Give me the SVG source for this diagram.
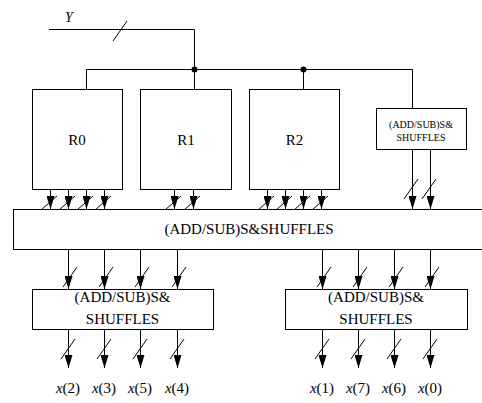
<svg xmlns="http://www.w3.org/2000/svg" xmlns:xlink="http://www.w3.org/1999/xlink" width="482" height="403" viewBox="0 0 482 403">
<style>
.box{fill:#fff;stroke:#000;stroke-width:1}
.ln{fill:none;stroke:#000;stroke-width:1}
.arr{fill:none;stroke:#000;stroke-width:1;marker-end:url(#ah)}
</style>
<defs>
<marker id="ah" markerUnits="userSpaceOnUse" viewBox="0 0 13 8" refX="13" refY="4" markerWidth="13" markerHeight="8" orient="auto">
<path d="M0,0 L13,4 L0,8 z" fill="#000"/>
</marker>
<path id="sl" d="M-8,7 L8,-7" class="ln"/>
<path id="slt" d="M-7,10 L7,-10" class="ln"/>
</defs>

<g id="Y-input">
<text x="65" y="22" font-family="Liberation Serif" font-style="italic" font-size="14">Y</text>
</g>

<g id="R0"><rect class="box" x="32.5" y="89.5" width="90" height="100"/><text x="77" y="145" font-family="Liberation Serif" font-size="15" text-anchor="middle">R0</text></g>
<g id="R1"><rect class="box" x="140.5" y="89.5" width="91" height="100"/><text x="186" y="145" font-family="Liberation Serif" font-size="15" text-anchor="middle">R1</text></g>
<g id="R2"><rect class="box" x="249.5" y="89.5" width="90" height="100"/><text x="294.5" y="145" font-family="Liberation Serif" font-size="15" text-anchor="middle">R2</text></g>
<g id="small-box"><rect class="box" x="376.5" y="108.5" width="90" height="41"/><text x="421" y="128" font-family="Liberation Serif" font-size="10" text-anchor="middle">(ADD/SUB)S&amp;</text><text x="421" y="140.5" font-family="Liberation Serif" font-size="10" text-anchor="middle">SHUFFLES</text></g>
<g id="big-box"><rect class="box" x="13.5" y="209.5" width="480" height="40"/><text x="249" y="234" font-family="Liberation Serif" font-size="15" text-anchor="middle">(ADD/SUB)S&amp;SHUFFLES</text></g>
<g id="left-box"><rect class="box" x="32.5" y="289.5" width="181" height="40"/><text x="122.5" y="302" font-family="Liberation Serif" font-size="15" text-anchor="middle">(ADD/SUB)S&amp;</text><text x="122.5" y="324" font-family="Liberation Serif" font-size="15" text-anchor="middle">SHUFFLES</text></g>
<g id="right-box"><rect class="box" x="285.5" y="289.5" width="182" height="40"/><text x="376" y="302" font-family="Liberation Serif" font-size="15" text-anchor="middle">(ADD/SUB)S&amp;</text><text x="376" y="324" font-family="Liberation Serif" font-size="15" text-anchor="middle">SHUFFLES</text></g>

<g id="outputs" font-family="Liberation Serif" font-size="15" text-anchor="middle">
<text x="68" y="393" font-family="Liberation Serif"><tspan font-style="italic">x</tspan>(2)</text>
<text x="104" y="393" font-family="Liberation Serif"><tspan font-style="italic">x</tspan>(3)</text>
<text x="140" y="393" font-family="Liberation Serif"><tspan font-style="italic">x</tspan>(5)</text>
<text x="177" y="393" font-family="Liberation Serif"><tspan font-style="italic">x</tspan>(4)</text>
<text x="322" y="393" font-family="Liberation Serif"><tspan font-style="italic">x</tspan>(1)</text>
<text x="358" y="393" font-family="Liberation Serif"><tspan font-style="italic">x</tspan>(7)</text>
<text x="394" y="393" font-family="Liberation Serif"><tspan font-style="italic">x</tspan>(6)</text>
<text x="430" y="393" font-family="Liberation Serif"><tspan font-style="italic">x</tspan>(0)</text>
</g>

<g id="connectors">
<path class="ln" d="M49,29.5 H194.5 V89"/>
<use xlink:href="#slt" x="120" y="31"/>
<path class="ln" d="M86.5,89 V69.5 H412.5 V108"/>
<path class="ln" d="M303.5,69.5 V89"/>
<circle cx="194.5" cy="69.5" r="3" fill="#000"/>
<circle cx="303.5" cy="69.5" r="3" fill="#000"/>

<path class="arr" d="M50.5,189 V209"/>
<path class="arr" d="M68.5,189 V209"/>
<path class="arr" d="M86.5,189 V209"/>
<path class="arr" d="M104.5,189 V209"/>
<path class="arr" d="M174.5,189 V209"/>
<path class="arr" d="M193.5,189 V209"/>
<path class="arr" d="M267.5,189 V209"/>
<path class="arr" d="M285.5,189 V209"/>
<path class="arr" d="M303.5,189 V209"/>
<path class="arr" d="M321.5,189 V209"/>
<path class="arr" d="M412.5,149 V209"/>
<path class="arr" d="M430.5,149 V209"/>
<use xlink:href="#sl" x="49" y="203"/>
<use xlink:href="#sl" x="67" y="203"/>
<use xlink:href="#sl" x="85" y="203"/>
<use xlink:href="#sl" x="103" y="203"/>
<use xlink:href="#sl" x="173" y="203"/>
<use xlink:href="#sl" x="192" y="203"/>
<use xlink:href="#sl" x="266" y="203"/>
<use xlink:href="#sl" x="284" y="203"/>
<use xlink:href="#sl" x="302" y="203"/>
<use xlink:href="#sl" x="320" y="203"/>
<use xlink:href="#slt" x="411" y="189"/>
<use xlink:href="#slt" x="429" y="189"/>

<path class="arr" d="M68.5,249 V289"/>
<path class="arr" d="M104.5,249 V289"/>
<path class="arr" d="M140.5,249 V289"/>
<path class="arr" d="M177.5,249 V289"/>
<path class="arr" d="M322.5,249 V289"/>
<path class="arr" d="M358.5,249 V289"/>
<path class="arr" d="M394.5,249 V289"/>
<path class="arr" d="M430.5,249 V289"/>
<use xlink:href="#slt" x="70" y="277"/>
<use xlink:href="#slt" x="106" y="277"/>
<use xlink:href="#slt" x="142" y="277"/>
<use xlink:href="#slt" x="179" y="277"/>
<use xlink:href="#slt" x="324" y="277"/>
<use xlink:href="#slt" x="360" y="277"/>
<use xlink:href="#slt" x="396" y="277"/>
<use xlink:href="#slt" x="432" y="277"/>

<path class="arr" d="M68.5,329 V368"/>
<path class="arr" d="M104.5,329 V368"/>
<path class="arr" d="M140.5,329 V368"/>
<path class="arr" d="M177.5,329 V368"/>
<path class="arr" d="M322.5,329 V368"/>
<path class="arr" d="M358.5,329 V368"/>
<path class="arr" d="M394.5,329 V368"/>
<path class="arr" d="M430.5,329 V368"/>
<use xlink:href="#slt" x="68" y="349"/>
<use xlink:href="#slt" x="104" y="349"/>
<use xlink:href="#slt" x="140" y="349"/>
<use xlink:href="#slt" x="177" y="349"/>
<use xlink:href="#slt" x="322" y="349"/>
<use xlink:href="#slt" x="358" y="349"/>
<use xlink:href="#slt" x="394" y="349"/>
<use xlink:href="#slt" x="430" y="349"/>
</g>
</svg>
